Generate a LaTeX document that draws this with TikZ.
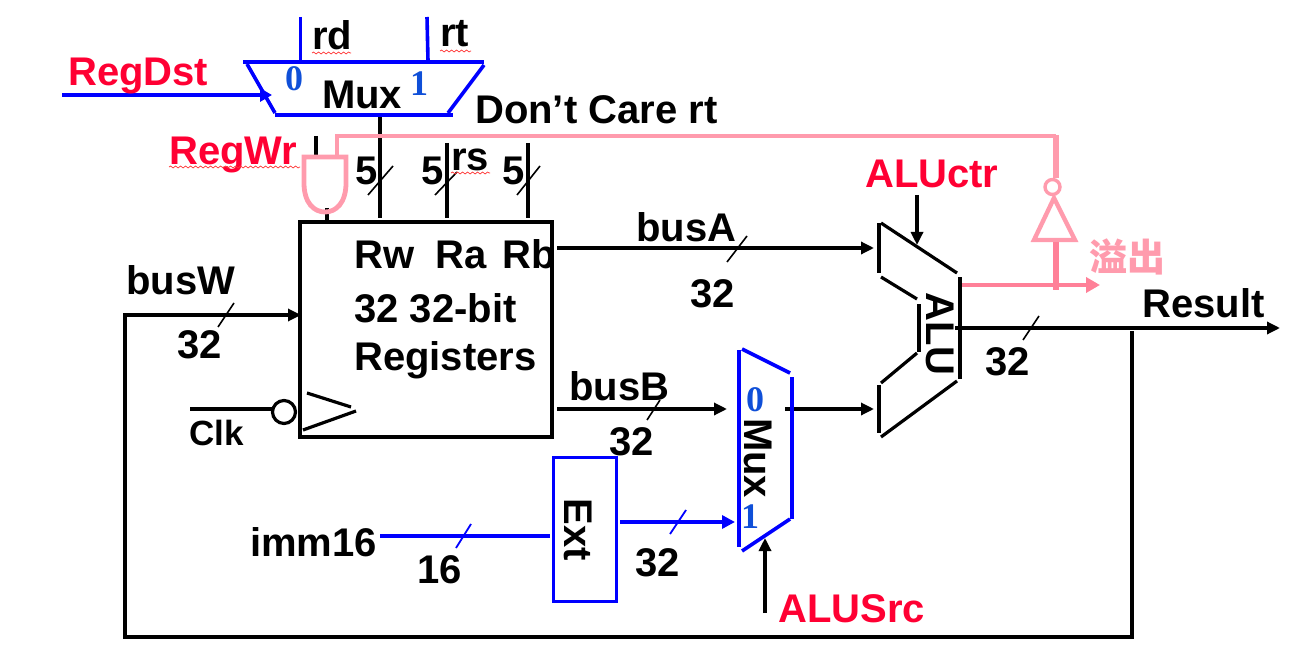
\documentclass[tikz,border=0pt]{standalone}
\usepackage{fontspec}
\setmainfont{Liberation Sans}
\newfontfamily\cjkf{Noto Sans CJK SC}
\newfontfamily\digf{Liberation Serif}
\usetikzlibrary{arrows.meta,decorations.pathmorphing}
\definecolor{bl}{HTML}{0000FF}
\definecolor{dg}{HTML}{0F4FD8}
\definecolor{rd}{HTML}{FF0033}
\definecolor{pk}{HTML}{FF9BAD}
\definecolor{pkd}{HTML}{FF8098}
\tikzset{
  x=1pt,y=-1pt,
  wire/.style={draw=black,line width=3.2pt},
  bwire/.style={draw=bl,line width=3.6pt},
  pwire/.style={draw=pk,line width=3.6pt},
  tick/.style={draw=black,line width=1.6pt},
  btick/.style={draw=bl,line width=1.8pt},
  head/.style={-{Triangle[length=13pt,width=12pt]}},
  lab/.style={anchor=base west,inner sep=0pt,font=\fontsize{40}{40}\bfseries\selectfont},
  rlab/.style={lab,text=rd},
  vlab/.style={anchor=center,inner sep=0pt,rotate=-90,font=\fontsize{40}{40}\bfseries\selectfont},
  dig/.style={anchor=center,inner sep=0pt,text=dg,font=\fontsize{36}{36}\digf\bfseries\selectfont},
  squig/.style={draw=red!80,line width=.7pt,decorate,decoration={snake,amplitude=1pt,segment length=5pt}},
  block/.style={draw,inner sep=0pt,line width=3.6pt}
}
\begin{document}
\begin{tikzpicture}
\useasboundingbox (0,0) rectangle (1297,652);
% blocks
\node[block,draw=black,minimum width=252pt,minimum height=215pt] (regs) at (426,329.5) {};
\node[block,draw=bl,minimum width=63pt,minimum height=144pt] (ext) at (585,529.5) {};
% RegDst mux
\coordinate (mt1) at (243,62); \coordinate (mt2) at (484,62);
\coordinate (mb1) at (275,115); \coordinate (mb2) at (453,115);
\draw[bwire] (mt1) -- (mt2);
\draw[bwire] (247,64) -- (275,113);
\draw[bwire] (mb1) -- (mb2);
\draw[bwire] (448,113) -- (484,65);
\coordinate (rdtop) at (300.5,17); \coordinate (rdbot) at (300.5,61);
\coordinate (rttop) at (427,17); \coordinate (rtbot) at (428,61);
\draw[bwire] (rdtop) -- (rdbot);
\draw[bwire] (rttop) -- (rtbot);
\coordinate (dstin) at (62,95); \coordinate (dstend) at (272,95);
\draw[bwire,-{Triangle[length=12pt,width=13pt]}] (dstin) -- (dstend);
% register number wires
\coordinate (rwt) at (380,117); \coordinate (rwb) at (380,218);
\coordinate (rat) at (447,143); \coordinate (rab) at (447,218);
\coordinate (rbt) at (528,143); \coordinate (rbb) at (528,218);
\draw[wire] (rwt) -- (rwb); \draw[wire] (rat) -- (rab); \draw[wire] (rbt) -- (rbb);
\draw[tick] (368,195) -- (393,166);
\draw[tick] (435,195) -- (457,172);
\draw[tick] (517,195) -- (540,166);
% AND gate
\coordinate (wrs) at (316,136); \coordinate (wre) at (316,155);
\draw[wire] (wrs) -- (wre);
\coordinate (gt) at (327,208); \coordinate (gb) at (327,221);
\draw[wire] (gt) -- (gb);
\draw[draw=pk,line width=4.8pt] (304,157) -- (346,157) -- (346,183) .. controls (346,203) and (336,212) .. (325,212) .. controls (314,212) and (304,203) .. (304,183) -- cycle;
% overflow feedback
\coordinate (fb0) at (337,156); \coordinate (fb1) at (337,136); \coordinate (fb2) at (1056,136);
\draw[pwire] (fb0) -- (fb1) -- (fb2);
\coordinate (fb3) at (1056,135); \coordinate (fb4) at (1056,178);
\draw[draw=pk,line width=5.5pt] (fb3) -- (fb4);
\node[circle,draw=pk,line width=3.4pt,minimum size=15pt,inner sep=0pt] (inv) at (1052.5,187) {};
\draw[draw=pk,line width=4.4pt] (1054,198) -- (1075,240) -- (1034,240) -- cycle;
\coordinate (ovs) at (1056,242); \coordinate (ove) at (1056,290);
\draw[draw=pkd,line width=6pt] (ovs) -- (ove);
\coordinate (ov0) at (961,285); \coordinate (ov1) at (1100,285);
\draw[draw=pkd,line width=3.8pt,-{Triangle[length=14pt,width=15pt]}] (ov0) -- (ov1);
% ALU
\draw[wire] (879,223) -- (879,273);
\draw[wire] (881,223) -- (957,273);
\draw[wire] (881,277) -- (917,299);
\draw[wire] (919,304) -- (919,352);
\draw[wire] (917,353) -- (881,383);
\draw[wire] (879,385) -- (879,433);
\draw[wire] (881,437) -- (957,381);
\draw[wire] (960,277) -- (960,379);
\coordinate (ctrs) at (917,195); \coordinate (ctre) at (917,245);
\draw[wire,head] (ctrs) -- (ctre);
\coordinate (as) at (557,248); \coordinate (ae) at (874,248);
\draw[wire,head] (as) -- (ae);
\draw[tick] (727,262) -- (747,236);
\coordinate (bs) at (557,409); \coordinate (be) at (727,409);
\draw[wire,head] (bs) -- (be);
\draw[tick] (647,420) -- (660,400);
\coordinate (ms) at (785,409); \coordinate (me) at (874,409);
\draw[wire,head] (ms) -- (me);
% ALUSrc mux
\draw[bwire] (739,350) -- (739,547);
\draw[bwire] (742,349) -- (790,373);
\draw[bwire] (792,377) -- (792,519);
\draw[bwire] (790,519) -- (742,551);
\coordinate (srcs) at (765,613); \coordinate (srce) at (765,538);
\draw[wire,head] (srcs) -- (srce);
% ext wires
\coordinate (is) at (380,536); \coordinate (ie) at (550,536);
\draw[bwire] (is) -- (ie);
\draw[btick] (456,548) -- (471,524);
\coordinate (xs) at (620,522); \coordinate (xe) at (735,522);
\draw[bwire,-{Triangle[length=13pt,width=13pt]}] (xs) -- (xe);
\draw[btick] (670,534) -- (686,510);
% result and feedback
\coordinate (rs0) at (955,328); \coordinate (rs1) at (1280,328);
\draw[wire,head] (rs0) -- (rs1);
\draw[tick] (1023,340) -- (1039,316);
\coordinate (fa) at (1132,331); \coordinate (fb) at (1132,637);
\coordinate (fc) at (125,637); \coordinate (fd) at (125,315); \coordinate (fe) at (301,315);
\draw[wire,head] (fa) -- (fb) -- (fc) -- (fd) -- (fe);
\draw[tick] (218,327) -- (234,303);
% clock
\coordinate (ck) at (190,409); \coordinate (cke) at (273,409);
\draw[wire] (ck) -- (cke);
\node[circle,draw=black,line width=3.2pt,minimum size=23pt,inner sep=0pt] (clkb) at (284,412) {};
\draw[wire] (307,393) -- (351,407);
\draw[wire] (356,411) -- (303,430);
% text
\node[rlab] (t1) at (68,86) {RegDst};
\node[lab] (t2) at (312,50) {rd};
\node[lab] (t3) at (440,47) {rt};
\node[lab] (t4) at (322,109) {Mux};
\node[lab] (t5) at (475,124) {Don’t Care rt};
\node[rlab] (t6) at (169,165) {RegWr};
\node[lab] (t7) at (451,171) {rs};
\node[lab] (t8) at (355,185) {5};
\node[lab] (t9) at (421,185) {5};
\node[lab] (t10) at (502,185) {5};
\node[rlab] (t11) at (865,188) {ALUctr};
\node[lab] (t12) at (354,268) {Rw};
\node[lab] (t13) at (435,268) {Ra};
\node[lab] (t14) at (502,268) {Rb};
\node[lab] (t15) at (636,241) {busA};
\node[lab] (t16) at (569,400) {busB};
\node[lab] (t17) at (126,294) {busW};
\node[lab] (t18) at (177,358) {32};
\node[lab] (t19) at (354,322) {32 32-bit};
\node[lab] (t20) at (354,370) {Registers};
\node[lab] (t21) at (690,307) {32};
\node[lab] (t22) at (609,455) {32};
\node[lab] (t23) at (635,576) {32};
\node[lab] (t24) at (417,583) {16};
\node[lab] (t25) at (250,556) {imm16};
\node[lab,font=\fontsize{35}{35}\bfseries\selectfont] (t26) at (189,445) {Clk};
\node[rlab] (t27) at (778,622) {ALUSrc};
\node[lab] (t28) at (1142,317) {Result};
\node[lab] (t29) at (985,375) {32};
\node[vlab] (t30) at (940,334) {ALU};
\node[vlab] (t31) at (758,458) {Mux};
\node[vlab] (t32) at (578,530) {Ext};
\node[dig] (d0) at (294,79) {0};
\node[dig] (d1) at (419,84) {1};
\node[dig] (d2) at (755,400) {0};
\node[dig] (d3) at (750,517) {1};
\node[anchor=center,inner sep=0pt,text=pk,font=\fontsize{38}{38}\cjkf\bfseries\selectfont] (ov) at (1127,257) {溢出};
% spelling marks
\draw[squig] (312,53) -- (351,53);
\draw[squig] (440,51) -- (471,51);
\draw[squig] (169,167) -- (300,167);
\draw[squig] (451,173) -- (490,173);
\end{tikzpicture}
\end{document}
